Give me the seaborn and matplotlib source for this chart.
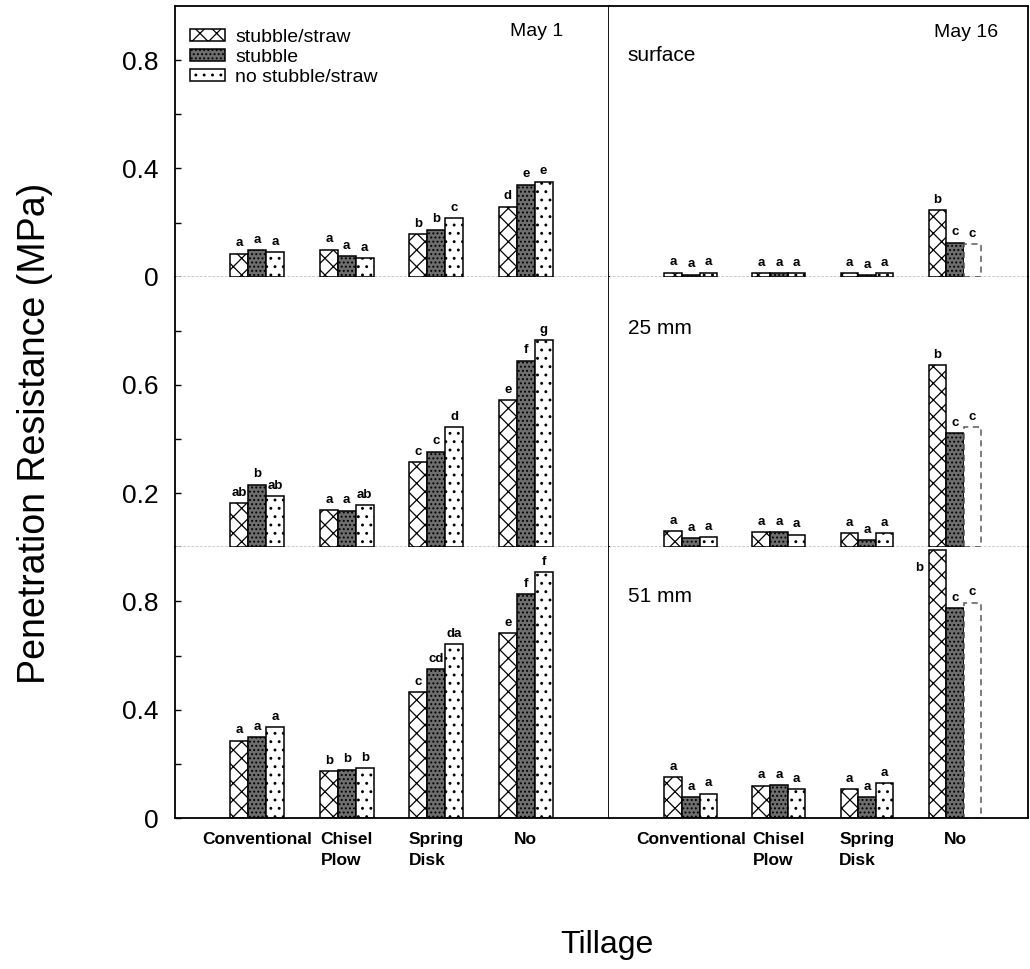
import numpy as np
import pandas as pd
import matplotlib
matplotlib.use("Agg")
import matplotlib.pyplot as plt
import seaborn as sns

# categorias
tillage = ['Conventional', 'Chisel\nPlow', 'Spring\nDisk', 'No']
residue = ['stubble/straw', 'stubble', 'no stubble/straw']
dates = ['May 1', 'May 16']
depths = ['surface', '25 mm', '51 mm']

# valores (MPa), filas = residuo, columnas = labranza
may1_surface = [[0.085, 0.100, 0.156, 0.259],
                [0.098, 0.075, 0.174, 0.340],
                [0.091, 0.068, 0.215, 0.351]]
may16_surface = [[0.015, 0.012, 0.012, 0.245],
                 [0.008, 0.012, 0.006, 0.126],
                 [0.015, 0.012, 0.012, 0.120]]
may1_25mm = [[0.162, 0.139, 0.315, 0.544],
             [0.232, 0.136, 0.354, 0.690],
             [0.189, 0.156, 0.444, 0.767]]
may16_25mm = [[0.060, 0.057, 0.053, 0.672],
              [0.035, 0.057, 0.028, 0.423],
              [0.037, 0.047, 0.053, 0.445]]
may1_51mm = [[0.286, 0.173, 0.465, 0.684],
             [0.300, 0.179, 0.550, 0.826],
             [0.337, 0.185, 0.643, 0.910]]
may16_51mm = [[0.152, 0.120, 0.106, 0.990],
              [0.077, 0.123, 0.078, 0.777],
              [0.090, 0.106, 0.128, 0.796]]

# letras de separacion de medias
let_may1_surface = [['a', 'a', 'b', 'd'], ['a', 'a', 'b', 'e'], ['a', 'a', 'c', 'e']]
let_may16_surface = [['a', 'a', 'a', 'b'], ['a', 'a', 'a', 'c'], ['a', 'a', 'a', 'c']]
let_may1_25mm = [['ab', 'a', 'c', 'e'], ['b', 'a', 'c', 'f'], ['ab', 'ab', 'd', 'g']]
let_may16_25mm = [['a', 'a', 'a', 'b'], ['a', 'a', 'a', 'c'], ['a', 'a', 'a', 'c']]
let_may1_51mm = [['a', 'b', 'c', 'e'], ['a', 'b', 'cd', 'f'], ['a', 'b', 'da', 'f']]
let_may16_51mm = [['a', 'a', 'a', 'b'], ['a', 'a', 'a', 'c'], ['a', 'a', 'a', 'c']]

valores = [[may1_surface, may16_surface],
           [may1_25mm, may16_25mm],
           [may1_51mm, may16_51mm]]
letras = [[let_may1_surface, let_may16_surface],
          [let_may1_25mm, let_may16_25mm],
          [let_may1_51mm, let_may16_51mm]]

filas = []
for i, d in enumerate(depths):
    for j, f in enumerate(dates):
        for k, r in enumerate(residue):
            for m, t in enumerate(tillage):
                filas.append({'depth': d, 'date': f, 'residue': r, 'tillage': t,
                              'valor': valores[i][j][k][m]})
df = pd.DataFrame(filas)

sns.set_style("white")
plt.rcParams['font.family'] = ['Liberation Sans', 'DejaVu Sans']
plt.rcParams['hatch.linewidth'] = 0.9
for clave in ['text.color', 'axes.labelcolor', 'xtick.color', 'ytick.color']:
    plt.rcParams[clave] = 'black'

estilos = [dict(facecolor='white', hatch='xx'),
           dict(facecolor='#6e6e6e', hatch='....'),
           dict(facecolor='white', hatch='..')]

fig, axes = plt.subplots(3, 2, figsize=(10.3, 9.69), dpi=100,
                         gridspec_kw=dict(width_ratios=[434, 419], hspace=0, wspace=0))
fig.subplots_adjust(left=175/1030, right=1028/1030, top=1-6/969, bottom=1-818/969)

xlims = [(-0.92, 3.93), (-0.93, 3.83)]
ytick_labels = [['0', '', '0.4', '', '0.8'],
                ['', '0.2', '', '0.6', ''],
                ['0', '', '0.4', '', '0.8']]

for i, d in enumerate(depths):
    for j, f in enumerate(dates):
        ax = axes[i, j]
        sub = df[(df['depth'] == d) & (df['date'] == f)]
        sns.barplot(data=sub, x='tillage', y='valor', hue='residue', order=tillage,
                    hue_order=residue, palette=['white'] * 3, width=0.6,
                    edgecolor='black', linewidth=1.1, legend=False, ax=ax, errorbar=None)
        for k, cont in enumerate(ax.containers):
            for p in cont:
                p.set_facecolor(estilos[k]['facecolor'])
                p.set_hatch(estilos[k]['hatch'])
                p.set_edgecolor('black')
            anns = ax.bar_label(cont, labels=letras[i][j][k], padding=3,
                                fontsize=9.5, fontweight='bold', color='black')
            # la barra de "no stubble/straw" en No (May 16) es solo contorno punteado
            if j == 1 and k == 2:
                p = cont[3]
                p.set_hatch('')
                p.set_facecolor('white')
                p.set_linestyle((0, (4, 3)))
                p.set_edgecolor('0.35')
            if i == 2 and j == 1 and k == 0:
                b = cont[3]
                anns[3].set_text('')
                ax.text(b.get_x() - 0.06, b.get_height() - 0.09, letras[i][j][k][3],
                        ha='right', va='bottom', fontsize=9.5, fontweight='bold')

        ax.set_xlim(*xlims[j])
        ax.set_ylim(0, 1.0)
        ax.set_xlabel('')
        ax.set_ylabel('')
        ax.set_yticks([0, 0.2, 0.4, 0.6, 0.8])
        if j == 0:
            ax.set_yticklabels(ytick_labels[i])
            ax.tick_params(axis='y', direction='in', length=4, width=1, pad=12,
                           labelsize=19, left=True)
        else:
            ax.tick_params(axis='y', left=False, labelleft=False)
        if i == 2:
            ax.set_xticks(range(len(tillage)))
            ax.set_xticklabels(tillage, fontsize=12.5, fontweight='bold',
                               multialignment='left', linespacing=1.5)
            ax.tick_params(axis='x', length=0, pad=10)
        else:
            ax.set_xticklabels([])
            ax.tick_params(axis='x', length=0)

        for s in ax.spines.values():
            s.set_color('black')
            s.set_linewidth(1.3)
        if i < 2:
            ax.spines['bottom'].set_linestyle((0, (1, 2)))
            ax.spines['bottom'].set_linewidth(1.0)
        if i > 0:
            ax.spines['top'].set_visible(False)
        if j == 1:
            ax.spines['left'].set_visible(False)

# textos de los paneles
axes[0, 0].text(0.894, 0.905, 'May 1', transform=axes[0, 0].transAxes,
                ha='right', va='center', fontsize=14)
axes[0, 1].text(0.928, 0.903, 'May 16', transform=axes[0, 1].transAxes,
                ha='right', va='center', fontsize=14)
for i, d in enumerate(depths):
    axes[i, 1].text(0.045, [0.818, 0.81, 0.82][i], d, transform=axes[i, 1].transAxes,
                    ha='left', va='center', fontsize=15)

# leyenda
handles = [c[0] for c in axes[0, 0].containers]
axes[0, 0].legend(handles, residue, loc='upper left', bbox_to_anchor=(0.035, 0.915),
                  frameon=False, fontsize=14, borderpad=0, borderaxespad=0,
                  handlelength=1.8, handleheight=0.55, labelspacing=0.15,
                  handletextpad=0.5)

fig.text(35/1030, 1-433/969, 'Penetration Resistance (MPa)', rotation=90,
         ha='center', va='center', fontsize=27)
fig.text(607/1030, 1-945/969, 'Tillage', ha='center', va='center', fontsize=23)

fig.savefig('out.png', dpi=100, facecolor='white')
